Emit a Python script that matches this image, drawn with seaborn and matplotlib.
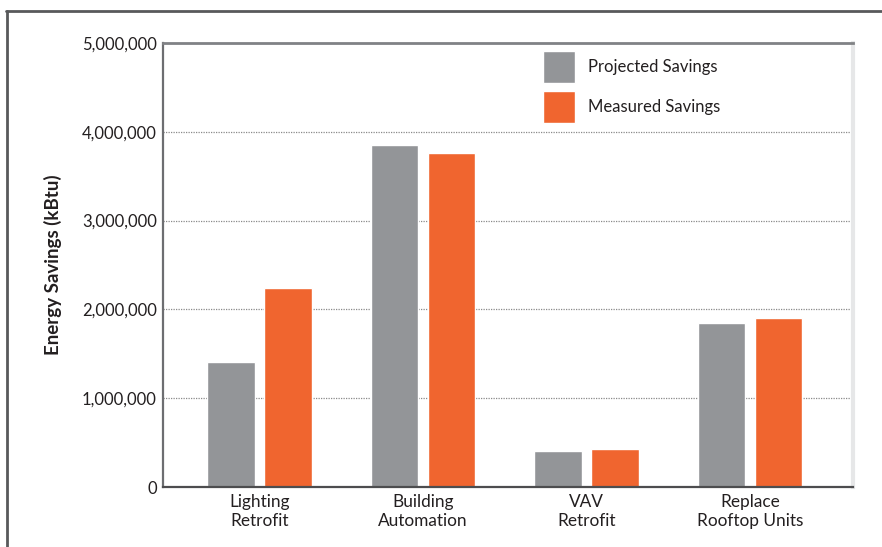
import matplotlib
matplotlib.use("Agg")
import matplotlib.pyplot as plt
from matplotlib.ticker import FuncFormatter
from matplotlib.lines import Line2D
import seaborn as sns
import pandas as pd

# Energy savings per measure (kBtu)
categories = ["Lighting\nRetrofit", "Building\nAutomation", "VAV\nRetrofit", "Replace\nRooftop Units"]
projected = [1410000, 3850000, 405000, 1850000]
measured = [2240000, 3760000, 425000, 1900000]
series = ["Projected Savings", "Measured Savings"]
y_ticks = [0, 1000000, 2000000, 3000000, 4000000, 5000000]

GRAY = "#939598"
ORANGE = "#F0652F"

df = pd.DataFrame({
    "measure": categories * 2,
    "savings": projected + measured,
    "series": [series[0]] * len(categories) + [series[1]] * len(categories),
})

sns.set_theme(style="white")
plt.rcParams["font.family"] = ["Lato", "DejaVu Sans"]

fig = plt.figure(figsize=(8.82, 5.47), dpi=100)
ax = fig.add_axes([163 / 882, 1 - 487 / 547, 690 / 882, 444 / 547])

sns.barplot(data=df, x="measure", y="savings", hue="series",
            order=categories, hue_order=series,
            palette=[GRAY, ORANGE], width=0.70, gap=0.17,
            saturation=1, errorbar=None, ax=ax, zorder=2)

ax.set_xlim(-0.59, 3.63)
ax.set_ylim(0, 5000000)
ax.set_yticks(y_ticks)
ax.yaxis.set_major_formatter(FuncFormatter(lambda v, p: f"{int(v):,}"))

# dotted gridlines behind bars
for v in y_ticks[1:-1]:
    ax.axhline(v, color="#8a8a8a", lw=0.9, ls=(0, (1, 1)), zorder=1)

ax.tick_params(axis="both", length=0, colors="#231f20")
ax.tick_params(axis="y", pad=4.5, labelsize=12)
ax.tick_params(axis="x", pad=5, labelsize=12.4)
for lbl in ax.get_xticklabels():
    lbl.set_linespacing(1.2)

ax.set_xlabel("")
ax.set_ylabel("Energy Savings (kBtu)", fontsize=13.5, fontweight="bold",
              color="#231f20", labelpad=0)
ax.yaxis.set_label_coords(-0.1464, 0.5)

ax.spines["left"].set_color("#6d6e71")
ax.spines["left"].set_linewidth(1.6)
ax.spines["bottom"].set_color("#4d4d4f")
ax.spines["bottom"].set_linewidth(1.6)
ax.spines["top"].set_color("#808285")
ax.spines["top"].set_linewidth(2.0)
ax.spines["right"].set_color("#e6e7e8")
ax.spines["right"].set_linewidth(3.0)
for s in ax.spines.values():
    s.set_visible(True)

handles, labels = ax.get_legend_handles_labels()
ax.legend(handles, labels, loc="upper left", bbox_to_anchor=(0.55, 1 - 7.7 / 444),
          frameon=False, fontsize=12, borderpad=0, borderaxespad=0,
          handlelength=1.92, handleheight=2.58, handletextpad=0.84,
          labelspacing=0.5, labelcolor="#231f20")

# outer frame around the figure
fig.add_artist(Line2D([7 / 882, 7 / 882], [0, 1 - 10.5 / 547], color="#58595b", lw=2,
                      transform=fig.transFigure))
fig.add_artist(Line2D([6 / 882, 1], [1 - 10.5 / 547, 1 - 10.5 / 547], color="#58595b", lw=2,
                      transform=fig.transFigure))

fig.savefig("out.png", dpi=100)
